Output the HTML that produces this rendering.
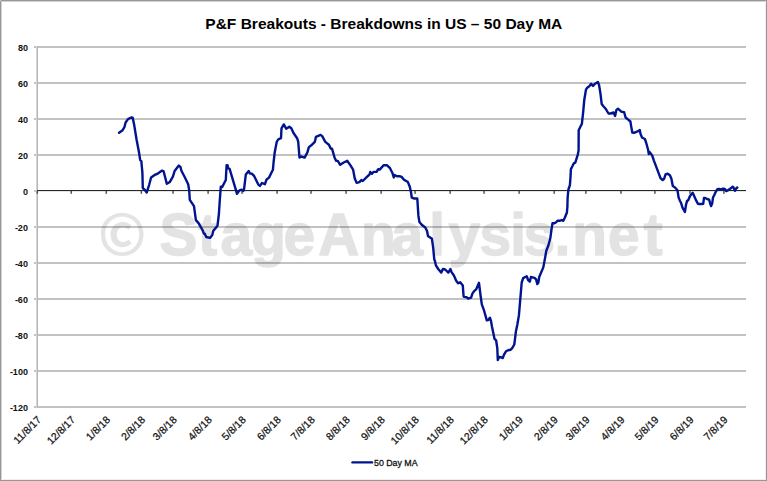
<!DOCTYPE html>
<html><head><meta charset="utf-8"><style>
html,body{margin:0;padding:0;background:#fff;}
svg{display:block;}
.g{stroke:#c3c3c3;stroke-width:1.6;}
.tk{stroke:#555;stroke-width:1.4;}
.yl{font-family:"Liberation Sans",sans-serif;font-size:9px;font-weight:bold;text-anchor:end;fill:#111;}
.xl{font-family:"Liberation Sans",sans-serif;font-size:10.4px;fill:#111;stroke:#111;stroke-width:0.25px;}
</style></head><body>
<svg width="767" height="481" viewBox="0 0 767 481">
<rect x="0" y="0" width="767" height="481" fill="#fff"/>
<text x="383.8" y="28.9" text-anchor="middle" font-family="Liberation Sans, sans-serif" font-weight="bold" font-size="15.5px" textLength="357" lengthAdjust="spacingAndGlyphs" fill="#000">P&amp;F Breakouts - Breakdowns in US – 50 Day MA</text>
<rect x="34" y="46" width="712" height="2" fill="#c2c2c2"/>
<rect x="34" y="82" width="712" height="2" fill="#c2c2c2"/>
<rect x="34" y="118" width="712" height="2" fill="#c2c2c2"/>
<rect x="34" y="154" width="712" height="2" fill="#c2c2c2"/>
<rect x="34" y="226" width="712" height="2" fill="#c2c2c2"/>
<rect x="34" y="262" width="712" height="2" fill="#c2c2c2"/>
<rect x="34" y="298" width="712" height="2" fill="#c2c2c2"/>
<rect x="34" y="334" width="712" height="2" fill="#c2c2c2"/>
<rect x="34" y="370" width="712" height="2" fill="#c2c2c2"/>
<rect x="34" y="406" width="712" height="2" fill="#c2c2c2"/>

<rect x="36" y="46" width="1" height="362" fill="#d6d6d6"/>
<rect x="37" y="46" width="1" height="362" fill="#b5b5b5"/>
<rect x="34" y="190" width="2" height="2" fill="#c8c8c8"/>
<rect x="37" y="190" width="709" height="1" fill="#262626"/>
<rect x="37" y="191" width="709" height="1" fill="#e4e4e4"/>
<rect x="36.55" y="191" width="1.5" height="2.8" fill="#555"/><rect x="70.48" y="191" width="1.5" height="2.8" fill="#555"/><rect x="105.55" y="191" width="1.5" height="2.8" fill="#555"/><rect x="140.61" y="191" width="1.5" height="2.8" fill="#555"/><rect x="172.28" y="191" width="1.5" height="2.8" fill="#555"/><rect x="207.35" y="191" width="1.5" height="2.8" fill="#555"/><rect x="241.28" y="191" width="1.5" height="2.8" fill="#555"/><rect x="276.34" y="191" width="1.5" height="2.8" fill="#555"/><rect x="310.28" y="191" width="1.5" height="2.8" fill="#555"/><rect x="345.34" y="191" width="1.5" height="2.8" fill="#555"/><rect x="380.40" y="191" width="1.5" height="2.8" fill="#555"/><rect x="414.34" y="191" width="1.5" height="2.8" fill="#555"/><rect x="449.40" y="191" width="1.5" height="2.8" fill="#555"/><rect x="483.33" y="191" width="1.5" height="2.8" fill="#555"/><rect x="518.40" y="191" width="1.5" height="2.8" fill="#555"/><rect x="553.46" y="191" width="1.5" height="2.8" fill="#555"/><rect x="585.13" y="191" width="1.5" height="2.8" fill="#555"/><rect x="620.20" y="191" width="1.5" height="2.8" fill="#555"/><rect x="654.13" y="191" width="1.5" height="2.8" fill="#555"/><rect x="689.19" y="191" width="1.5" height="2.8" fill="#555"/><rect x="723.13" y="191" width="1.5" height="2.8" fill="#555"/>
<text x="27.9" y="51.40" class="yl">80</text>
<text x="27.9" y="87.40" class="yl">60</text>
<text x="27.9" y="123.40" class="yl">40</text>
<text x="27.9" y="159.40" class="yl">20</text>
<text x="27.9" y="195.40" class="yl">0</text>
<text x="27.9" y="231.40" class="yl">-20</text>
<text x="27.9" y="267.40" class="yl">-40</text>
<text x="27.9" y="303.40" class="yl">-60</text>
<text x="27.9" y="339.40" class="yl">-80</text>
<text x="27.9" y="375.40" class="yl">-100</text>
<text x="27.9" y="411.40" class="yl">-120</text>

<text class="xl" text-anchor="end" transform="translate(41.80,420.5) rotate(-45)">11/8/17</text>
<text class="xl" text-anchor="end" transform="translate(75.73,420.5) rotate(-45)">12/8/17</text>
<text class="xl" text-anchor="end" transform="translate(110.80,420.5) rotate(-45)">1/8/18</text>
<text class="xl" text-anchor="end" transform="translate(145.86,420.5) rotate(-45)">2/8/18</text>
<text class="xl" text-anchor="end" transform="translate(177.53,420.5) rotate(-45)">3/8/18</text>
<text class="xl" text-anchor="end" transform="translate(212.60,420.5) rotate(-45)">4/8/18</text>
<text class="xl" text-anchor="end" transform="translate(246.53,420.5) rotate(-45)">5/8/18</text>
<text class="xl" text-anchor="end" transform="translate(281.59,420.5) rotate(-45)">6/8/18</text>
<text class="xl" text-anchor="end" transform="translate(315.53,420.5) rotate(-45)">7/8/18</text>
<text class="xl" text-anchor="end" transform="translate(350.59,420.5) rotate(-45)">8/8/18</text>
<text class="xl" text-anchor="end" transform="translate(385.65,420.5) rotate(-45)">9/8/18</text>
<text class="xl" text-anchor="end" transform="translate(419.59,420.5) rotate(-45)">10/8/18</text>
<text class="xl" text-anchor="end" transform="translate(454.65,420.5) rotate(-45)">11/8/18</text>
<text class="xl" text-anchor="end" transform="translate(488.58,420.5) rotate(-45)">12/8/18</text>
<text class="xl" text-anchor="end" transform="translate(523.65,420.5) rotate(-45)">1/8/19</text>
<text class="xl" text-anchor="end" transform="translate(558.71,420.5) rotate(-45)">2/8/19</text>
<text class="xl" text-anchor="end" transform="translate(590.38,420.5) rotate(-45)">3/8/19</text>
<text class="xl" text-anchor="end" transform="translate(625.45,420.5) rotate(-45)">4/8/19</text>
<text class="xl" text-anchor="end" transform="translate(659.38,420.5) rotate(-45)">5/8/19</text>
<text class="xl" text-anchor="end" transform="translate(694.44,420.5) rotate(-45)">6/8/19</text>
<text class="xl" text-anchor="end" transform="translate(728.38,420.5) rotate(-45)">7/8/19</text>

<g fill="#000" stroke="#000" stroke-width="1.4" stroke-linejoin="round" opacity="0.105" font-family="Liberation Sans, sans-serif" font-weight="bold" font-size="58px">
<text x="98.1" y="255.4" font-size="57px" stroke-width="0.2" font-family="Noto Sans CJK JP, Liberation Sans, sans-serif">©</text><text transform="translate(0,255.3) scale(0.980,1.030)" x="162.73 202.18 224.99 256.47 289.21 324.77 368.33 399.58 437.92 457.78 489.36 520.57 534.31 565.88 583.99 620.44 656.88" y="0">StageAnalysis.net</text>
</g>
<path d="M119.1,132.8 L122.5,130.3 L124.4,127.2 L125.6,122.5 L128.0,119.1 L131.1,117.5 L132.7,117.8 L134.3,125.6 L136.6,139.7 L139.0,152.3 L140.2,160.1 L141.3,160.9 L142.4,172.6 L142.8,188.2 L144.9,190.0 L146.7,192.6 L149.1,185.0 L151.1,177.5 L154.3,175.2 L158.2,173.3 L162.1,170.6 L163.6,171.3 L166.8,183.8 L169.9,181.9 L173.0,176.4 L174.6,171.0 L178.8,165.6 L180.5,167.0 L181.4,170.8 L184.8,177.2 L188.2,184.3 L189.2,190.5 L189.8,199.9 L194.0,206.1 L195.9,220.1 L198.7,223.4 L202.5,230.0 L203.9,233.7 L204.8,233.7 L206.2,237.0 L210.0,237.9 L212.3,235.1 L213.2,230.9 L217.5,225.7 L218.9,214.0 L219.8,200.0 L220.8,186.7 L222.1,187.1 L225.8,180.0 L226.6,165.1 L227.5,165.1 L228.3,168.4 L229.6,168.8 L235.8,189.6 L237.0,193.8 L239.5,190.4 L241.6,189.6 L243.3,190.9 L244.1,188.8 L245.8,174.6 L248.7,170.9 L249.9,173.4 L252.0,173.8 L254.1,175.9 L258.3,184.6 L259.9,185.9 L262.0,183.0 L264.9,184.2 L266.6,179.5 L269.0,177.6 L272.9,169.8 L273.6,162.0 L274.7,152.6 L276.8,141.6 L278.3,139.3 L281.0,138.2 L281.5,128.3 L283.8,124.4 L286.2,128.8 L289.3,126.7 L291.3,128.3 L293.5,133.0 L297.1,138.2 L298.2,141.6 L299.5,157.6 L301.0,156.5 L304.6,157.6 L307.3,152.6 L308.9,147.1 L312.0,144.7 L314.8,141.9 L315.9,136.9 L320.6,134.9 L322.2,136.1 L325.3,141.9 L328.9,144.7 L330.8,148.6 L332.0,148.6 L334.7,158.0 L336.2,160.9 L337.8,160.9 L340.2,164.8 L343.3,162.7 L347.2,160.7 L350.3,165.1 L353.1,169.6 L354.7,178.2 L356.6,182.9 L359.4,182.1 L361.3,180.0 L362.8,181.0 L366.4,177.4 L369.6,174.3 L370.3,171.9 L371.9,173.8 L373.5,171.9 L376.6,171.9 L378.2,169.1 L379.7,169.6 L383.6,165.2 L386.8,165.2 L389.9,168.0 L392.3,172.7 L393.8,177.4 L394.6,175.0 L396.9,176.3 L400.1,176.3 L401.6,176.9 L404.0,179.7 L407.9,182.1 L409.8,186.8 L411.0,192.3 L411.8,197.7 L414.2,198.5 L417.3,198.5 L418.4,215.7 L419.4,222.0 L421.7,224.7 L425.3,227.5 L426.9,230.6 L428.0,236.1 L431.9,238.8 L433.2,247.9 L434.3,259.6 L435.0,261.2 L435.8,265.1 L438.2,269.0 L441.3,272.6 L442.9,269.0 L445.2,269.5 L448.3,272.6 L450.4,269.0 L451.5,272.1 L453.8,275.3 L456.2,280.7 L458.1,283.3 L460.2,282.2 L462.8,285.6 L463.6,296.3 L464.1,296.9 L466.6,297.3 L468.2,298.6 L471.1,297.7 L472.4,293.6 L474.1,291.1 L476.1,289.4 L479.0,282.8 L480.5,295.0 L481.8,304.4 L484.1,310.7 L486.8,320.4 L488.3,320.1 L489.9,317.7 L491.0,320.9 L491.9,326.3 L494.5,338.8 L496.1,340.3 L497.3,348.2 L497.8,360.1 L499.2,357.0 L500.8,357.2 L502.8,358.1 L503.9,354.9 L506.0,351.3 L508.1,350.2 L510.7,349.7 L512.2,348.2 L514.3,344.5 L515.0,338.8 L515.9,331.5 L517.4,324.2 L518.9,315.4 L520.1,301.3 L521.7,282.5 L523.2,278.1 L526.7,276.3 L528.2,280.2 L529.8,281.7 L530.9,277.0 L534.5,277.8 L536.1,279.4 L537.3,284.1 L538.4,282.5 L539.2,277.0 L543.3,267.4 L545.3,256.6 L546.3,250.7 L548.3,245.8 L550.3,238.3 L551.3,230.8 L552.5,223.3 L554.1,223.3 L555.8,222.5 L557.5,220.8 L560.0,220.8 L561.6,220.0 L563.3,220.8 L564.9,217.5 L566.9,212.5 L567.4,206.7 L567.6,198.2 L568.4,189.5 L569.9,185.1 L570.5,177.1 L570.9,169.1 L572.4,166.2 L573.8,163.3 L575.3,162.6 L576.7,158.2 L577.8,154.6 L578.6,150.2 L578.7,130.3 L580.5,126.6 L581.9,123.7 L583.1,112.8 L584.3,99.7 L586.0,89.5 L587.5,87.4 L589.6,85.9 L591.1,83.7 L593.0,85.9 L594.7,84.0 L597.9,82.0 L599.1,85.2 L600.5,93.9 L601.7,104.1 L603.2,106.0 L605.6,108.7 L608.5,113.5 L610.7,113.5 L613.6,112.5 L615.1,116.0 L616.3,110.2 L618.0,108.7 L621.6,111.8 L624.1,112.1 L625.6,117.5 L627.9,119.4 L630.4,121.5 L631.1,125.9 L632.3,132.5 L634.0,132.9 L637.6,131.4 L639.8,130.0 L640.5,133.9 L642.0,137.5 L644.9,139.0 L646.3,143.2 L648.1,149.7 L648.8,154.1 L649.5,151.9 L652.2,155.5 L653.9,160.6 L657.5,170.1 L660.5,178.1 L662.6,180.0 L664.1,178.8 L665.5,174.5 L667.7,173.7 L669.9,175.2 L671.4,178.8 L672.8,186.1 L675.0,187.5 L677.5,190.2 L678.6,197.5 L679.8,200.4 L681.2,203.3 L682.5,207.7 L684.9,212.0 L686.1,204.3 L687.1,200.9 L688.1,200.4 L690.0,196.0 L692.7,192.8 L694.4,196.5 L696.4,200.9 L697.9,203.8 L699.3,204.0 L701.8,204.0 L703.2,203.8 L704.0,198.0 L705.2,198.0 L707.1,199.0 L709.1,199.6 L710.1,203.3 L711.1,206.1 L712.2,203.3 L713.0,197.5 L714.5,194.6 L715.9,191.6 L717.4,189.2 L718.9,188.9 L720.8,189.5 L722.8,188.7 L724.3,188.7 L725.2,189.2 L726.2,191.1 L727.7,190.4 L730.1,188.7 L731.6,187.7 L732.6,186.7 L733.5,187.5 L734.5,189.7 L735.0,190.8 L736.0,188.7 L737.3,187.5" fill="none" stroke="#00148f" stroke-width="2.4" stroke-linejoin="round" stroke-linecap="round"/>
<line x1="352.5" y1="462.4" x2="372" y2="462.4" stroke="#00148f" stroke-width="2.4" stroke-linecap="round"/>
<text x="374" y="466.3" font-family="Liberation Sans, sans-serif" font-size="9.4px" fill="#111" stroke="#111" stroke-width="0.3" textLength="43.5" lengthAdjust="spacingAndGlyphs">50 Day MA</text>
<rect x="0.5" y="0.5" width="766" height="480" fill="none" stroke="#979797" stroke-width="1"/>
<rect x="1" y="1" width="1" height="479" fill="#d2d2d2"/>
<rect x="1" y="1" width="765" height="1" fill="#d2d2d2"/>
<rect x="765" y="1" width="1" height="479" fill="#eeeeee"/>
<rect x="1" y="479" width="765" height="1" fill="#eeeeee"/>
<rect x="0" y="0" width="1" height="1" fill="#c8c8c8"/>
</svg>
</body></html>
